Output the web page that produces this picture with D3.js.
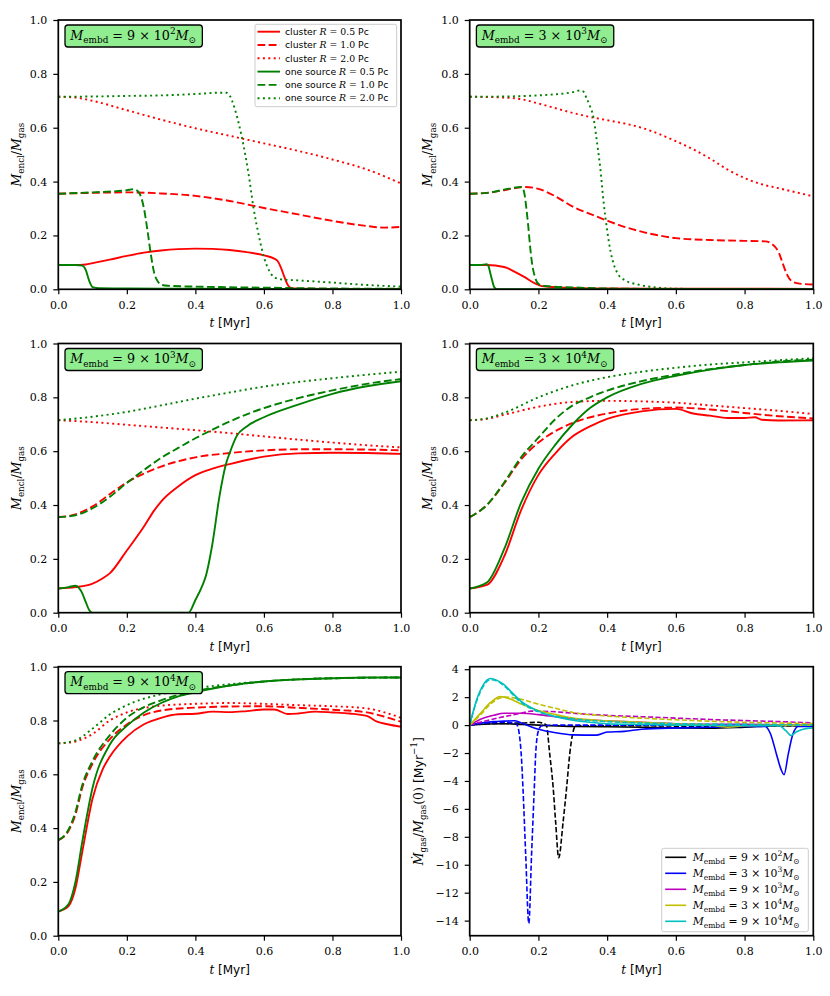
<!DOCTYPE html>
<html><head><meta charset="utf-8">
<script src="https://cdn.jsdelivr.net/npm/d3@7"></script>
<style>body{margin:0;background:#fff}svg{display:block}text{white-space:pre}</style>
</head><body><svg id="c" width="830" height="996"></svg>
<script>
// ---------------- DATA ----------------
const tTicks = [0, 0.2, 0.4, 0.6, 0.8, 1.0];
const fracTicks = [0, 0.2, 0.4, 0.6, 0.8, 1.0];
const rateTicks = [4, 2, 0, -2, -4, -6, -8, -10, -12, -14];
const panelMasses = [["9", "2"], ["3", "3"], ["9", "3"], ["3", "4"], ["9", "4"]];
const legendRadii = ["0.5", "1.0", "2.0"];

// Panel 1: M_embd = 9e2
const m9e2_cl05 = [[0,0.09],[0.05,0.09],[0.08,0.092],[0.1,0.097],[0.15,0.11],[0.2,0.124],[0.25,0.136],[0.3,0.144],[0.35,0.149],[0.4,0.151],[0.45,0.15],[0.5,0.146],[0.55,0.138],[0.6,0.126],[0.63,0.114],[0.64,0.105],[0.65,0.08],[0.66,0.045],[0.67,0.015],[0.68,0.004],[0.7,0.002],[0.8,0.001],[1.0,0.001]];
const m9e2_cl10 = [[0,0.355],[0.1,0.358],[0.2,0.36],[0.3,0.356],[0.4,0.347],[0.5,0.328],[0.6,0.302],[0.7,0.278],[0.8,0.254],[0.9,0.235],[0.95,0.229],[1.0,0.232]];
const m9e2_cl20 = [[0,0.715],[0.05,0.712],[0.1,0.70],[0.2,0.665],[0.3,0.63],[0.4,0.598],[0.5,0.57],[0.6,0.542],[0.7,0.514],[0.8,0.482],[0.9,0.445],[1.0,0.393]];
const m9e2_os05 = [[0,0.09],[0.05,0.09],[0.07,0.088],[0.08,0.072],[0.09,0.032],[0.1,0.008],[0.12,0.004],[0.2,0.003],[0.4,0.002],[0.6,0.001],[1.0,0.0005]];
const m9e2_os10 = [[0,0.355],[0.1,0.36],[0.2,0.368],[0.22,0.372],[0.235,0.36],[0.25,0.3],[0.26,0.22],[0.27,0.13],[0.28,0.06],[0.29,0.03],[0.3,0.017],[0.32,0.013],[0.4,0.01],[0.6,0.006],[0.8,0.003],[1.0,0.002]];
const m9e2_os20 = [[0,0.715],[0.1,0.716],[0.2,0.718],[0.3,0.72],[0.4,0.725],[0.47,0.73],[0.49,0.73],[0.5,0.72],[0.515,0.67],[0.538,0.55],[0.555,0.43],[0.57,0.3],[0.585,0.2],[0.6,0.12],[0.615,0.07],[0.63,0.045],[0.65,0.037],[0.7,0.033],[0.8,0.025],[0.9,0.016],[1.0,0.01]];

// Panel 2: M_embd = 3e3
const m3e3_cl05 = [[0,0.09],[0.05,0.09],[0.1,0.083],[0.13,0.066],[0.16,0.045],[0.19,0.022],[0.21,0.012],[0.25,0.008],[0.3,0.005],[0.4,0.003],[0.6,0.002],[0.8,0.002],[1.0,0.001]];
const m3e3_cl10 = [[0,0.355],[0.05,0.358],[0.1,0.368],[0.16,0.38],[0.2,0.373],[0.25,0.345],[0.3,0.307],[0.35,0.28],[0.4,0.255],[0.45,0.232],[0.5,0.214],[0.55,0.2],[0.6,0.19],[0.7,0.183],[0.8,0.18],[0.86,0.178],[0.88,0.168],[0.9,0.135],[0.91,0.1],[0.92,0.065],[0.93,0.04],[0.94,0.028],[0.96,0.021],[1.0,0.018]];
const m3e3_cl20 = [[0,0.715],[0.1,0.712],[0.15,0.706],[0.2,0.69],[0.3,0.655],[0.35,0.64],[0.4,0.628],[0.5,0.6],[0.6,0.55],[0.65,0.52],[0.7,0.485],[0.75,0.445],[0.8,0.413],[0.85,0.39],[0.9,0.375],[0.95,0.36],[1.0,0.345]];
const m3e3_os05 = [[0,0.09],[0.03,0.09],[0.05,0.093],[0.055,0.085],[0.06,0.06],[0.065,0.035],[0.07,0.012],[0.075,0.003],[0.08,0],[1.0,0]];
const m3e3_os10 = [[0,0.355],[0.05,0.358],[0.1,0.37],[0.15,0.38],[0.155,0.375],[0.16,0.35],[0.165,0.3],[0.17,0.24],[0.175,0.17],[0.18,0.11],[0.19,0.045],[0.2,0.02],[0.22,0.012],[0.3,0.007],[0.4,0.003],[0.6,0.001],[1.0,0]];
const m3e3_os20 = [[0,0.715],[0.1,0.716],[0.2,0.72],[0.3,0.732],[0.32,0.738],[0.33,0.735],[0.34,0.71],[0.35,0.68],[0.36,0.64],[0.37,0.55],[0.38,0.45],[0.39,0.32],[0.4,0.22],[0.41,0.14],[0.42,0.09],[0.43,0.06],[0.45,0.035],[0.5,0.015],[0.55,0.006],[0.6,0.002],[1.0,0]];

// Panel 3: M_embd = 9e3
const m9e3_cl05 = [[0,0.09],[0.05,0.095],[0.1,0.108],[0.13,0.128],[0.15,0.146],[0.2,0.231],[0.25,0.32],[0.28,0.38],[0.3,0.413],[0.35,0.469],[0.4,0.511],[0.45,0.535],[0.5,0.552],[0.6,0.58],[0.7,0.592],[0.8,0.594],[0.9,0.593],[1.0,0.59]];
const m9e3_cl10 = [[0,0.355],[0.05,0.365],[0.1,0.395],[0.15,0.44],[0.2,0.484],[0.25,0.517],[0.3,0.543],[0.4,0.577],[0.5,0.593],[0.6,0.603],[0.7,0.607],[0.8,0.607],[0.9,0.606],[1.0,0.603]];
const m9e3_cl20 = [[0,0.715],[0.1,0.708],[0.2,0.698],[0.3,0.688],[0.4,0.678],[0.5,0.667],[0.6,0.655],[0.7,0.643],[0.8,0.632],[0.9,0.622],[1.0,0.614]];
const m9e3_os05 = [[0,0.09],[0.03,0.095],[0.05,0.1],[0.06,0.092],[0.07,0.072],[0.08,0.04],[0.09,0.01],[0.1,0],[0.38,0],[0.4,0.047],[0.42,0.1],[0.43,0.134],[0.45,0.258],[0.47,0.43],[0.49,0.556],[0.5,0.593],[0.52,0.655],[0.55,0.692],[0.6,0.726],[0.7,0.773],[0.8,0.813],[0.9,0.841],[1.0,0.86]];
const m9e3_os10 = [[0,0.355],[0.05,0.362],[0.1,0.388],[0.15,0.43],[0.2,0.482],[0.25,0.53],[0.3,0.575],[0.35,0.612],[0.4,0.648],[0.45,0.68],[0.5,0.71],[0.55,0.737],[0.6,0.76],[0.7,0.797],[0.8,0.826],[0.9,0.85],[1.0,0.868]];
const m9e3_os20 = [[0,0.715],[0.1,0.728],[0.2,0.746],[0.3,0.77],[0.4,0.795],[0.5,0.818],[0.6,0.84],[0.7,0.857],[0.8,0.871],[0.9,0.884],[1.0,0.895]];

// Panel 4: M_embd = 3e4
const m3e4_cl05 = [[0,0.09],[0.05,0.103],[0.1,0.208],[0.15,0.382],[0.2,0.512],[0.25,0.593],[0.3,0.655],[0.35,0.692],[0.4,0.72],[0.5,0.748],[0.6,0.757],[0.65,0.74],[0.7,0.732],[0.75,0.723],[0.8,0.723],[0.83,0.726],[0.85,0.717],[0.9,0.714],[1.0,0.715]];
const m3e4_cl10 = [[0,0.355],[0.05,0.4],[0.1,0.48],[0.15,0.57],[0.2,0.632],[0.25,0.675],[0.3,0.705],[0.4,0.74],[0.5,0.757],[0.6,0.762],[0.7,0.755],[0.8,0.742],[0.9,0.73],[1.0,0.722]];
const m3e4_cl20 = [[0,0.715],[0.05,0.72],[0.1,0.735],[0.2,0.765],[0.3,0.783],[0.4,0.787],[0.5,0.785],[0.6,0.78],[0.7,0.77],[0.8,0.76],[0.9,0.75],[1.0,0.738]];
const m3e4_os05 = [[0,0.09],[0.05,0.112],[0.1,0.235],[0.15,0.41],[0.2,0.535],[0.25,0.625],[0.3,0.7],[0.35,0.76],[0.4,0.8],[0.5,0.85],[0.6,0.88],[0.7,0.903],[0.8,0.92],[0.9,0.93],[1.0,0.937]];
const m3e4_os10 = [[0,0.355],[0.05,0.4],[0.1,0.483],[0.15,0.578],[0.2,0.65],[0.25,0.72],[0.3,0.77],[0.35,0.8],[0.4,0.825],[0.5,0.86],[0.6,0.885],[0.7,0.905],[0.8,0.92],[0.9,0.933],[1.0,0.94]];
const m3e4_os20 = [[0,0.715],[0.05,0.722],[0.1,0.742],[0.2,0.8],[0.3,0.845],[0.4,0.875],[0.5,0.895],[0.6,0.91],[0.7,0.922],[0.8,0.93],[0.9,0.938],[1.0,0.945]];

// Panel 5: M_embd = 9e4
const m9e4_cl05 = [[0,0.09],[0.03,0.11],[0.05,0.176],[0.07,0.312],[0.1,0.51],[0.13,0.62],[0.15,0.665],[0.2,0.74],[0.25,0.786],[0.3,0.81],[0.35,0.823],[0.4,0.825],[0.45,0.833],[0.5,0.831],[0.55,0.835],[0.6,0.841],[0.63,0.841],[0.67,0.824],[0.7,0.826],[0.75,0.833],[0.8,0.83],[0.85,0.826],[0.9,0.817],[0.93,0.796],[0.96,0.786],[1.0,0.777]];
const m9e4_cl10 = [[0,0.355],[0.03,0.39],[0.05,0.45],[0.07,0.55],[0.1,0.64],[0.15,0.73],[0.2,0.785],[0.25,0.82],[0.3,0.837],[0.4,0.848],[0.5,0.852],[0.6,0.853],[0.7,0.847],[0.8,0.84],[0.9,0.83],[0.95,0.815],[1.0,0.795]];
const m9e4_cl20 = [[0,0.715],[0.05,0.722],[0.1,0.75],[0.15,0.8],[0.2,0.83],[0.3,0.855],[0.4,0.862],[0.5,0.865],[0.6,0.862],[0.7,0.857],[0.8,0.853],[0.9,0.845],[1.0,0.81]];
const m9e4_os05 = [[0,0.09],[0.03,0.118],[0.05,0.2],[0.07,0.35],[0.1,0.55],[0.15,0.71],[0.2,0.78],[0.25,0.83],[0.3,0.865],[0.35,0.89],[0.4,0.905],[0.5,0.93],[0.6,0.945],[0.7,0.953],[0.8,0.957],[0.9,0.96],[1.0,0.96]];
const m9e4_os10 = [[0,0.355],[0.03,0.395],[0.05,0.46],[0.07,0.56],[0.1,0.65],[0.15,0.745],[0.2,0.81],[0.25,0.85],[0.3,0.875],[0.35,0.895],[0.4,0.91],[0.5,0.93],[0.6,0.945],[0.7,0.953],[0.8,0.957],[1.0,0.96]];
const m9e4_os20 = [[0,0.715],[0.05,0.726],[0.1,0.77],[0.15,0.822],[0.2,0.857],[0.3,0.898],[0.4,0.92],[0.5,0.935],[0.6,0.945],[0.7,0.953],[0.8,0.957],[1.0,0.96]];

// Panel 6: gas mass rate (solid & dashed per mass)
const rate9e2_s = [[0,0],[0.05,0.08],[0.1,0.1],[0.15,0.05],[0.2,0],[0.3,-0.1],[0.4,-0.12],[0.5,-0.15],[0.6,-0.2],[0.7,-0.22],[0.8,-0.15],[0.9,-0.05],[1.0,-0.05]];
const rate9e2_d = [[0,0],[0.05,0.1],[0.1,0.12],[0.15,0.15],[0.2,0.2],[0.215,0.12],[0.223,0],[0.233,-2.1],[0.243,-4.5],[0.25,-6.9],[0.259,-9.5],[0.272,-6.9],[0.282,-4.5],[0.291,-2.1],[0.299,-0.7],[0.308,-0.05],[0.35,-0.05],[0.5,-0.05],[0.7,-0.1],[0.9,-0.05],[1.0,-0.05]];
const rate3e3_s = [[0,0],[0.03,0.15],[0.07,0.25],[0.1,0.28],[0.13,0.31],[0.15,0.15],[0.2,-0.3],[0.25,-0.55],[0.3,-0.7],[0.37,-0.72],[0.4,-0.5],[0.45,-0.45],[0.5,-0.3],[0.6,-0.2],[0.7,-0.15],[0.8,-0.1],[0.86,-0.1],[0.875,-0.6],[0.893,-2.1],[0.905,-3.1],[0.915,-3.55],[0.927,-2.1],[0.94,-0.7],[0.956,-0.1],[1.0,-0.1]];
const rate3e3_d = [[0,0],[0.05,0.15],[0.1,0.2],[0.13,0.15],[0.138,0],[0.15,-2.1],[0.155,-4.5],[0.163,-9.3],[0.172,-14.2],[0.18,-9.3],[0.188,-4.5],[0.192,-2.1],[0.199,-0.5],[0.209,-0.05],[0.25,0],[0.5,0],[1.0,0]];
const rate9e3_s = [[0,0],[0.03,0.4],[0.07,0.7],[0.1,0.85],[0.15,0.85],[0.2,0.75],[0.25,0.6],[0.3,0.45],[0.4,0.3],[0.5,0.2],[0.6,0.1],[0.8,0.05],[1.0,0]];
const rate9e3_d = [[0,0],[0.03,0.2],[0.08,0.5],[0.15,0.85],[0.18,1.0],[0.25,0.95],[0.3,0.85],[0.4,0.7],[0.5,0.6],[0.6,0.5],[0.7,0.4],[0.8,0.32],[0.9,0.25],[1.0,0.15]];
const rate3e4_s = [[0,0],[0.03,0.8],[0.06,1.6],[0.09,2.04],[0.12,1.85],[0.15,1.5],[0.2,1.05],[0.25,0.75],[0.3,0.5],[0.4,0.3],[0.5,0.2],[0.6,0.1],[0.7,0.0],[0.75,-0.15],[0.8,-0.05],[0.9,0.0],[1.0,0.0]];
const rate3e4_d = [[0,0],[0.03,0.7],[0.06,1.5],[0.1,2.0],[0.15,1.85],[0.2,1.5],[0.25,1.2],[0.3,0.9],[0.4,0.65],[0.5,0.5],[0.6,0.38],[0.7,0.28],[0.8,0.2],[0.9,0.15],[1.0,0.1]];
const rate9e4_s = [[0,0],[0.02,1.8],[0.04,2.9],[0.06,3.33],[0.08,3.2],[0.1,2.9],[0.12,2.4],[0.15,1.7],[0.2,1.0],[0.25,0.6],[0.3,0.35],[0.35,0.2],[0.4,0.1],[0.5,0.05],[0.6,0.0],[0.9,-0.05],[0.92,-0.4],[0.935,-0.75],[0.95,-0.5],[0.97,-0.3],[1.0,-0.2]];
const rate9e4_d = [[0,0],[0.02,1.7],[0.04,2.8],[0.06,3.25],[0.08,3.15],[0.1,2.8],[0.15,1.6],[0.2,0.95],[0.3,0.45],[0.4,0.25],[0.5,0.15],[0.6,0.1],[0.8,0.05],[1.0,0.0]];

// ---------------- STYLE / LAYOUT ----------------
const SERIF = "'DejaVu Serif','Liberation Serif',serif";
const SANS = "'DejaVu Sans',sans-serif";
const RED = "#ff0000", GREEN = "#008000";
const DASH = {solid: null, dashed: "7.8,3.4", dotted: "2,3.4", dashedThin: "5.2,2.3"};
const colX = [[58.3, 401], [469.7, 813.3]];
const rowY = [[20, 289.3], [343.5, 612.7], [666.7, 935.7]];

const svg = d3.select("#c");
svg.append("rect").attr("width", 830).attr("height", 996).attr("fill", "#fff");

function rich(sel, segs, size) {
  let off = 0;
  segs.forEach(([txt, kind, pos]) => {
    const ts = sel.append("tspan").text(txt)
      .attr("font-family", kind === "s" ? SANS : SERIF)
      .attr("font-style", kind === "i" ? "italic" : "normal");
    let target = 0, fs = size;
    if (pos === "sub") { target = 0.28 * size; fs = size * 0.7; }
    if (pos === "sup") { target = -0.42 * size; fs = size * 0.7; }
    ts.attr("font-size", fs);
    if (target !== off) { ts.attr("dy", target - off); off = target; }
  });
  return sel;
}
function massSegs(m) {
  return [["M","i"],["embd","r","sub"],[" = " + m[0] + " × 10","r"],[m[1],"r","sup"],["M","i"],["⊙","r","sub"]];
}

const line = (x, y) => d3.line().x(d => x(d[0])).y(d => y(d[1])).curve(d3.curveMonotoneX);

function drawPanel(ci, ri, yDomain, yTicks, yFmt, series, lw, ylabelSegs, ylabelOff) {
  const [x0, x1] = colX[ci], [y0, y1] = rowY[ri];
  const x = d3.scaleLinear().domain([0, 1]).range([x0, x1]);
  const y = d3.scaleLinear().domain(yDomain).range([y1, y0]);
  const id = "clip" + ci + ri;
  svg.append("clipPath").attr("id", id).append("rect")
    .attr("x", x0).attr("y", y0).attr("width", x1 - x0).attr("height", y1 - y0);
  const g = svg.append("g").attr("clip-path", `url(#${id})`);
  series.forEach(s => {
    g.append("path").datum(s.data).attr("d", line(x, y))
      .attr("fill", "none").attr("stroke", s.color).attr("stroke-width", lw)
      .attr("stroke-dasharray", DASH[s.dash]).attr("stroke-linejoin", "round");
  });
  const ax = svg.append("g").attr("transform", `translate(0,${y1})`)
    .call(d3.axisBottom(x).tickValues(tTicks).tickFormat(d3.format(".1f")).tickSize(5).tickPadding(7).tickSizeOuter(0));
  const ay = svg.append("g").attr("transform", `translate(${x0},0)`)
    .call(d3.axisLeft(y).tickValues(yTicks).tickFormat(yFmt).tickSize(5).tickPadding(6).tickSizeOuter(0));
  [ax, ay].forEach(a => {
    a.select(".domain").remove();
    a.selectAll("line").attr("stroke", "#000").attr("stroke-width", 1.2);
    a.selectAll("text").attr("font-family", SERIF).attr("font-size", 11).attr("fill", "#000");
  });
  svg.append("rect").attr("x", x0).attr("y", y0).attr("width", x1 - x0).attr("height", y1 - y0)
    .attr("fill", "none").attr("stroke", "#000").attr("stroke-width", 1.7);
  rich(svg.append("text").attr("x", (x0 + x1) / 2).attr("y", y1 + 38).attr("text-anchor", "middle").attr("fill", "#000"),
    [["t","i"],[" [Myr]","s"]], 12);
  const cy = (y0 + y1) / 2, lx = x0 - ylabelOff;
  rich(svg.append("text").attr("transform", `translate(${lx},${cy}) rotate(-90)`).attr("text-anchor", "middle").attr("fill", "#000"),
    ylabelSegs, 12.5);
  return {x, y, x0, x1, y0, y1};
}

const fracPanels = [
  [m9e2_cl05, m9e2_cl10, m9e2_cl20, m9e2_os05, m9e2_os10, m9e2_os20],
  [m3e3_cl05, m3e3_cl10, m3e3_cl20, m3e3_os05, m3e3_os10, m3e3_os20],
  [m9e3_cl05, m9e3_cl10, m9e3_cl20, m9e3_os05, m9e3_os10, m9e3_os20],
  [m3e4_cl05, m3e4_cl10, m3e4_cl20, m3e4_os05, m3e4_os10, m3e4_os20],
  [m9e4_cl05, m9e4_cl10, m9e4_cl20, m9e4_os05, m9e4_os10, m9e4_os20]
];
const dashes = ["solid", "dashed", "dotted"];
const fracLabel = [["M","i"],["encl","r","sub"],["/","r"],["M","i"],["gas","r","sub"]];

fracPanels.forEach((arrs, k) => {
  const ci = k % 2, ri = Math.floor(k / 2);
  const series = arrs.map((d, j) => ({data: d, color: j < 3 ? RED : GREEN, dash: dashes[j % 3]}));
  const p = drawPanel(ci, ri, [0, 1], fracTicks, d3.format(".1f"), series, 1.9, fracLabel, 37.5);
  const t = rich(svg.append("text").attr("x", p.x0 + 12).attr("y", p.y0 + 19.5).attr("fill", "#000"), massSegs(panelMasses[k]), 12.7);
  const bb = t.node().getBBox();
  svg.insert("rect", () => t.node())
    .attr("x", p.x0 + 6.7).attr("y", p.y0 + 5).attr("width", bb.width + 10.6).attr("height", 22)
    .attr("rx", 3).attr("fill", "#90ee90").attr("stroke", "#000").attr("stroke-width", 1.3);
});

// Legend for panel 1
(function () {
  const lx = 255, ly = 24.3, w = 141.7, h = 82.4;
  const g = svg.append("g");
  g.append("rect").attr("x", lx).attr("y", ly).attr("width", w).attr("height", h)
    .attr("rx", 2).attr("fill", "#fff").attr("fill-opacity", 0.8).attr("stroke", "#cccccc").attr("stroke-width", 1);
  const names = ["cluster ", "one source "];
  for (let i = 0; i < 6; i++) {
    const yy = ly + 7.4 + i * 13.3;
    const col = i < 3 ? RED : GREEN;
    g.append("line").attr("x1", lx + 2.5).attr("x2", lx + 25).attr("y1", yy).attr("y2", yy)
      .attr("stroke", col).attr("stroke-width", 1.9).attr("stroke-dasharray", DASH[dashes[i % 3]]);
    rich(g.append("text").attr("x", lx + 30).attr("y", yy + 3.2).attr("fill", "#000"),
      [[names[Math.floor(i / 3)], "s"], ["R", "i"], [" = " + legendRadii[i % 3] + " ", "r"], ["Pc", "s"]], 9.3);
  }
})();

// Panel 6
const rateSeries = [
  {data: rate9e2_s, color: "#000000", dash: "solid"}, {data: rate9e2_d, color: "#000000", dash: "dashedThin"},
  {data: rate3e3_s, color: "#0000ff", dash: "solid"}, {data: rate3e3_d, color: "#0000ff", dash: "dashedThin"},
  {data: rate9e3_s, color: "#bf00bf", dash: "solid"}, {data: rate9e3_d, color: "#bf00bf", dash: "dashedThin"},
  {data: rate3e4_s, color: "#bfbf00", dash: "solid"}, {data: rate3e4_d, color: "#bfbf00", dash: "dashedThin"},
  {data: rate9e4_s, color: "#00bfbf", dash: "solid"}, {data: rate9e4_d, color: "#00bfbf", dash: "dashedThin"}
];
const rateLabel = [["M\u0307","i"],["gas","r","sub"],["/","r"],["M","i"],["gas","r","sub"],["(0) ","r"],["[Myr","s"],["\u22121","r","sup"],["]","s"]];
drawPanel(1, 2, [-15.08, 4.18], rateTicks, d3.format("d"), rateSeries, 1.6, rateLabel, 47);
(function () {
  const lx = 661.7, ly = 848.3, w = 146.6, h = 83.4;
  const g = svg.append("g");
  g.append("rect").attr("x", lx).attr("y", ly).attr("width", w).attr("height", h)
    .attr("rx", 2).attr("fill", "#fff").attr("fill-opacity", 0.8).attr("stroke", "#cccccc").attr("stroke-width", 1);
  const cols = ["#000000", "#0000ff", "#bf00bf", "#bfbf00", "#00bfbf"];
  for (let i = 0; i < 5; i++) {
    const yy = ly + 9 + i * 16;
    g.append("line").attr("x1", lx + 3.5).attr("x2", lx + 24.5).attr("y1", yy).attr("y2", yy)
      .attr("stroke", cols[i]).attr("stroke-width", 1.6);
    rich(g.append("text").attr("x", lx + 31).attr("y", yy + 3.5).attr("fill", "#000"), massSegs(panelMasses[i]), 10.8);
  }
})();
</script></body></html>
